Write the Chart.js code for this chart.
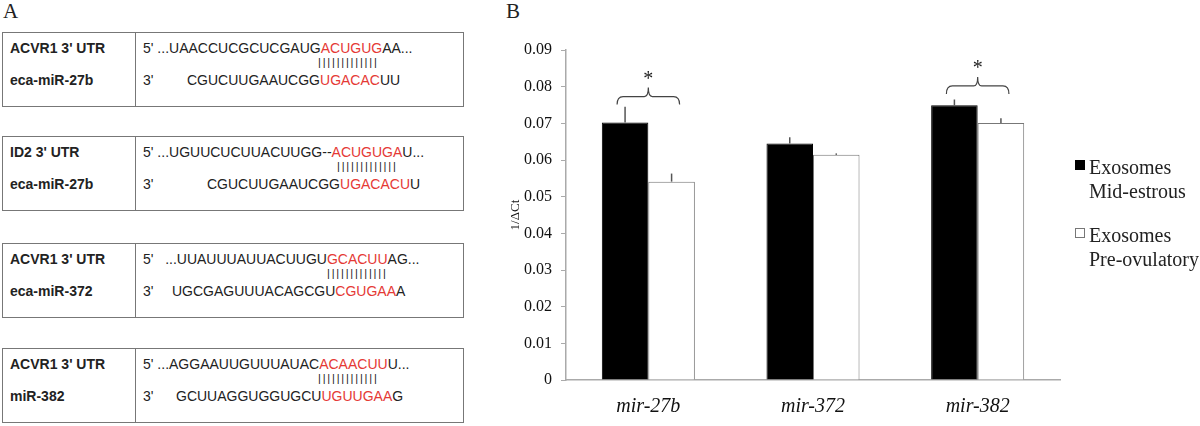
<!DOCTYPE html>
<html>
<head>
<meta charset="utf-8">
<script src="https://cdn.jsdelivr.net/npm/chart.js@4"></script>
<style>
  body { margin: 0; background: #fff; width: 1200px; height: 426px; position: relative; overflow: hidden; }
  .panel-letter { position: absolute; font-family: "Liberation Serif", serif; font-size: 21px; color: #222; }
  .box { position: absolute; left: 2px; width: 462px; height: 75px; border: 1px solid #777; box-sizing: border-box; }
  .box .divider { position: absolute; left: 132px; top: 0; bottom: 0; border-left: 1px solid #777; }
  .txt { position: absolute; font-family: "Liberation Sans", Arial, sans-serif; font-size: 14px; color: #222; white-space: pre; line-height: 1; }
  .lbl { font-weight: bold; }
  .red { color: #e53935; }
  .pipes { font-size: 11px; letter-spacing: 1.8px; }
  #wrap { position: absolute; left: 500px; top: 0; width: 700px; height: 426px; }
</style>
</head>
<body>
<div class="panel-letter" style="left:3px;top:-1px">A</div>
<div class="panel-letter" style="left:506px;top:-1px">B</div>
<div id="panelA"></div>
<div id="wrap"><canvas id="chart" width="700" height="426"></canvas></div>
<script>
// ===== Painel A: alinhamentos =====
const alignments = [
  { top: 32, target: "ACVR1 3' UTR", mirna: "eca-miR-27b",
    seq5: ["5' ...UAACCUCGCUCGAUG", "ACUGUG", "AA..."], seq3: ["CGUCUUGAAUCGG", "UGACAC", "UU"],
    x3: 187, xPipes: 318 },
  { top: 136, target: "ID2 3' UTR", mirna: "eca-miR-27b",
    seq5: ["5' ...UGUUCUCUUACUUGG--", "ACUGUGA", "U..."], seq3: ["CGUCUUGAAUCGG", "UGACACU", "U"],
    x3: 207, xPipes: 337 },
  { top: 243, target: "ACVR1 3' UTR", mirna: "eca-miR-372",
    seq5: ["5'   ...UUAUUUAUUACUUGU", "GCACUU", "AG..."], seq3: ["UGCGAGUUUACAGCGU", "CGUGAA", "A"],
    x3: 172, xPipes: 327 },
  { top: 348, target: "ACVR1 3' UTR", mirna: "miR-382",
    seq5: ["5' ...AGGAAUUGUUUAUAC", "ACAACUU", "U..."], seq3: ["GCUUAGGUGGUGCU", "UGUUGAA", "G"],
    x3: 176, xPipes: 318 }
];

const panelA = document.getElementById("panelA");
alignments.forEach(a => {
  const box = document.createElement("div");
  box.className = "box";
  box.style.top = a.top + "px";
  box.innerHTML = `<div class="divider"></div>`;
  panelA.appendChild(box);

  const seq = parts => `${parts[0]}<span class="red">${parts[1]}</span>${parts[2]}`;
  const add = (html, x, y, cls) => {
    const d = document.createElement("div");
    d.className = "txt " + (cls || "");
    d.style.left = x + "px";
    d.style.top = y + "px";
    d.innerHTML = html;
    panelA.appendChild(d);
  };
  add(a.target, 10, a.top + 9, "lbl");
  add(a.mirna, 10, a.top + 41, "lbl");
  add(seq(a.seq5), 143, a.top + 9);
  add("|||||||||||||", a.xPipes, a.top + 25, "pipes");
  add("3'", 143, a.top + 41);
  add(seq(a.seq3), a.x3, a.top + 41);
});

// ===== Painel B: gráfico =====
const categories = ["mir-27b", "mir-372", "mir-382"];
const midEstrous = [0.0702, 0.0645, 0.0749];
const midEstrousErr = [0.0043, 0.0017, 0.0016];
const preOvulatory = [0.0541, 0.0614, 0.0701];
const preOvulatoryErr = [0.0022, 0.0004, 0.0013];
const significant = [true, false, true];
const bracketLevel = [0.0773, null, 0.0802];
const seriesNames = [["Exosomes", "Mid-estrous"], ["Exosomes", "Pre-ovulatory"]];
const yMin = 0, yMax = 0.09, yStep = 0.01;

const serif = "'Liberation Serif', 'Times New Roman', serif";
const errors = [midEstrousErr, preOvulatoryErr];

// barras de erro, chaves de significância e legenda
const annotations = {
  id: "annotations",
  afterDatasetsDraw(chart) {
    const ctx = chart.ctx;
    const y = chart.scales.y;
    ctx.save();
    ctx.strokeStyle = "#555";
    ctx.lineWidth = 1.5;
    chart.data.datasets.forEach((ds, d) => {
      chart.getDatasetMeta(d).data.forEach((bar, i) => {
        ctx.beginPath();
        ctx.moveTo(bar.x, bar.y);
        ctx.lineTo(bar.x, y.getPixelForValue(ds.data[i] + errors[d][i]));
        ctx.stroke();
      });
    });

    ctx.lineWidth = 1.2;
    ctx.strokeStyle = "#444";
    significant.forEach((sig, i) => {
      if (!sig) return;
      const b0 = chart.getDatasetMeta(0).data[i];
      const b1 = chart.getDatasetMeta(1).data[i];
      const x1 = b0.x - 8, x2 = b1.x + 8, xm = (x1 + x2) / 2;
      const yl = y.getPixelForValue(bracketLevel[i]);
      ctx.beginPath();
      ctx.moveTo(x1, yl + 8);
      ctx.quadraticCurveTo(x1, yl, x1 + 6, yl);
      ctx.lineTo(xm - 4, yl);
      ctx.quadraticCurveTo(xm, yl, xm, yl - 9);
      ctx.quadraticCurveTo(xm, yl, xm + 4, yl);
      ctx.lineTo(x2 - 6, yl);
      ctx.quadraticCurveTo(x2, yl, x2, yl + 8);
      ctx.stroke();
      ctx.fillStyle = "#222";
      ctx.font = "20px " + serif;
      ctx.textAlign = "center";
      ctx.fillText("*", xm, yl - 12);
    });

    // legenda
    const lx = chart.chartArea.right + 15;
    const tops = [160, 228];
    ctx.font = "20px " + serif;
    ctx.textAlign = "left";
    chart.data.datasets.forEach((ds, d) => {
      ctx.fillStyle = ds.backgroundColor;
      ctx.fillRect(lx, tops[d], 10, 10);
      ctx.strokeStyle = ds.borderColor;
      ctx.lineWidth = 1;
      ctx.strokeRect(lx + 0.5, tops[d] + 0.5, 9, 9);
      ctx.fillStyle = "#222";
      seriesNames[d].forEach((line, k) => ctx.fillText(line, lx + 14, tops[d] + 14 + k * 24));
    });
    ctx.restore();
  }
};

new Chart(document.getElementById("chart"), {
  type: "bar",
  data: {
    labels: categories,
    datasets: [
      { label: seriesNames[0].join(" "), data: midEstrous, backgroundColor: "#000", borderColor: "#000", borderWidth: 1 },
      { label: seriesNames[1].join(" "), data: preOvulatory, backgroundColor: "#fff", borderColor: "#777", borderWidth: 1 }
    ]
  },
  options: {
    responsive: false,
    animation: false,
    layout: { padding: { left: 0, right: 140, top: 50, bottom: 0 } },
    categoryPercentage: 0.565,
    barPercentage: 1,
    plugins: { legend: { display: false }, tooltip: { enabled: false } },
    scales: {
      x: {
        grid: { display: false, drawTicks: false },
        border: { color: "#aaa", width: 1.5 },
        ticks: { color: "#111", padding: 15, font: { family: serif, size: 20, style: "italic" } },
        afterFit: s => { s.height = 46; }
      },
      y: {
        min: yMin, max: yMax,
        grid: { drawOnChartArea: false, tickLength: 5, color: "#aaa" },
        border: { color: "#aaa", width: 1.5 },
        ticks: {
          stepSize: yStep, color: "#111", padding: 9,
          font: { family: serif, size: 16 },
          callback: v => v === 0 ? "0" : v.toFixed(2)
        },
        title: { display: true, text: "1/ΔCt", color: "#111", font: { family: serif, size: 13 }, padding: { top: 8, bottom: 4 } },
        afterFit: s => { s.width = 66; }
      }
    }
  },
  plugins: [annotations]
});
</script>
</body>
</html>
